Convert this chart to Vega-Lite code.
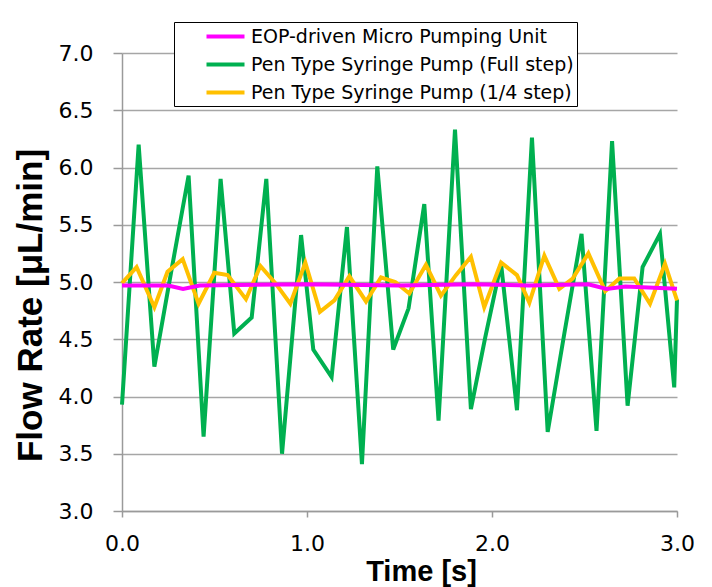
{
  "$schema": "https://vega.github.io/schema/vega-lite/v6.json",
  "width": 555,
  "height": 458,
  "autosize": {"type": "none"},
  "padding": {"left": 122, "top": 53, "right": 35, "bottom": 76},
  "background": "white",
  "config": {
    "view": {"stroke": null},
    "font": "DejaVu Sans",
    "axis": {
      "labelFont": "DejaVu Sans",
      "labelFontSize": 22,
      "labelColor": "#000000",
      "labelFlush": false,
      "titleFont": "Liberation Sans",
      "titleFontWeight": "bold",
      "titleColor": "#000000",
      "domainColor": "#9a9a9a",
      "domainWidth": 1.5,
      "tickColor": "#9a9a9a",
      "tickWidth": 1.5,
      "gridColor": "#a6a6a6",
      "gridWidth": 1.5,
      "gridOpacity": 1
    }
  },
  "data": {
    "values": [
      {"series": "Pen Type Syringe Pump (Full step)", "t": 0, "v": 3.93},
      {"series": "Pen Type Syringe Pump (Full step)", "t": 0.09, "v": 6.2},
      {"series": "Pen Type Syringe Pump (Full step)", "t": 0.175, "v": 4.26},
      {"series": "Pen Type Syringe Pump (Full step)", "t": 0.266, "v": 5.09},
      {"series": "Pen Type Syringe Pump (Full step)", "t": 0.36, "v": 5.93},
      {"series": "Pen Type Syringe Pump (Full step)", "t": 0.441, "v": 3.65},
      {"series": "Pen Type Syringe Pump (Full step)", "t": 0.533, "v": 5.9},
      {"series": "Pen Type Syringe Pump (Full step)", "t": 0.607, "v": 4.55},
      {"series": "Pen Type Syringe Pump (Full step)", "t": 0.701, "v": 4.69},
      {"series": "Pen Type Syringe Pump (Full step)", "t": 0.78, "v": 5.9},
      {"series": "Pen Type Syringe Pump (Full step)", "t": 0.865, "v": 3.5},
      {"series": "Pen Type Syringe Pump (Full step)", "t": 0.968, "v": 5.41},
      {"series": "Pen Type Syringe Pump (Full step)", "t": 1.034, "v": 4.41},
      {"series": "Pen Type Syringe Pump (Full step)", "t": 1.133, "v": 4.17},
      {"series": "Pen Type Syringe Pump (Full step)", "t": 1.216, "v": 5.48},
      {"series": "Pen Type Syringe Pump (Full step)", "t": 1.297, "v": 3.41},
      {"series": "Pen Type Syringe Pump (Full step)", "t": 1.38, "v": 6.01},
      {"series": "Pen Type Syringe Pump (Full step)", "t": 1.466, "v": 4.41},
      {"series": "Pen Type Syringe Pump (Full step)", "t": 1.549, "v": 4.77},
      {"series": "Pen Type Syringe Pump (Full step)", "t": 1.634, "v": 5.68},
      {"series": "Pen Type Syringe Pump (Full step)", "t": 1.711, "v": 3.79},
      {"series": "Pen Type Syringe Pump (Full step)", "t": 1.8, "v": 6.33},
      {"series": "Pen Type Syringe Pump (Full step)", "t": 1.886, "v": 3.89},
      {"series": "Pen Type Syringe Pump (Full step)", "t": 1.964, "v": 4.52},
      {"series": "Pen Type Syringe Pump (Full step)", "t": 2.049, "v": 5.16},
      {"series": "Pen Type Syringe Pump (Full step)", "t": 2.135, "v": 3.88},
      {"series": "Pen Type Syringe Pump (Full step)", "t": 2.216, "v": 6.26},
      {"series": "Pen Type Syringe Pump (Full step)", "t": 2.301, "v": 3.69},
      {"series": "Pen Type Syringe Pump (Full step)", "t": 2.391, "v": 4.55},
      {"series": "Pen Type Syringe Pump (Full step)", "t": 2.484, "v": 5.42},
      {"series": "Pen Type Syringe Pump (Full step)", "t": 2.565, "v": 3.7},
      {"series": "Pen Type Syringe Pump (Full step)", "t": 2.649, "v": 6.23},
      {"series": "Pen Type Syringe Pump (Full step)", "t": 2.733, "v": 3.92},
      {"series": "Pen Type Syringe Pump (Full step)", "t": 2.814, "v": 5.13},
      {"series": "Pen Type Syringe Pump (Full step)", "t": 2.908, "v": 5.42},
      {"series": "Pen Type Syringe Pump (Full step)", "t": 2.985, "v": 4.08},
      {"series": "Pen Type Syringe Pump (Full step)", "t": 3.0, "v": 4.85},

      {"series": "Pen Type Syringe Pump (1/4 step)", "t": 0, "v": 4.99},
      {"series": "Pen Type Syringe Pump (1/4 step)", "t": 0.079, "v": 5.13},
      {"series": "Pen Type Syringe Pump (1/4 step)", "t": 0.175, "v": 4.78},
      {"series": "Pen Type Syringe Pump (1/4 step)", "t": 0.246, "v": 5.09},
      {"series": "Pen Type Syringe Pump (1/4 step)", "t": 0.328, "v": 5.2},
      {"series": "Pen Type Syringe Pump (1/4 step)", "t": 0.414, "v": 4.81},
      {"series": "Pen Type Syringe Pump (1/4 step)", "t": 0.499, "v": 5.08},
      {"series": "Pen Type Syringe Pump (1/4 step)", "t": 0.571, "v": 5.06},
      {"series": "Pen Type Syringe Pump (1/4 step)", "t": 0.67, "v": 4.85},
      {"series": "Pen Type Syringe Pump (1/4 step)", "t": 0.748, "v": 5.14},
      {"series": "Pen Type Syringe Pump (1/4 step)", "t": 0.829, "v": 4.99},
      {"series": "Pen Type Syringe Pump (1/4 step)", "t": 0.91, "v": 4.81},
      {"series": "Pen Type Syringe Pump (1/4 step)", "t": 0.991, "v": 5.17},
      {"series": "Pen Type Syringe Pump (1/4 step)", "t": 1.07, "v": 4.74},
      {"series": "Pen Type Syringe Pump (1/4 step)", "t": 1.148, "v": 4.84},
      {"series": "Pen Type Syringe Pump (1/4 step)", "t": 1.229, "v": 5.05},
      {"series": "Pen Type Syringe Pump (1/4 step)", "t": 1.319, "v": 4.83},
      {"series": "Pen Type Syringe Pump (1/4 step)", "t": 1.4, "v": 5.04},
      {"series": "Pen Type Syringe Pump (1/4 step)", "t": 1.477, "v": 5.0},
      {"series": "Pen Type Syringe Pump (1/4 step)", "t": 1.553, "v": 4.9},
      {"series": "Pen Type Syringe Pump (1/4 step)", "t": 1.643, "v": 5.15},
      {"series": "Pen Type Syringe Pump (1/4 step)", "t": 1.724, "v": 4.88},
      {"series": "Pen Type Syringe Pump (1/4 step)", "t": 1.805, "v": 5.06},
      {"series": "Pen Type Syringe Pump (1/4 step)", "t": 1.886, "v": 5.22},
      {"series": "Pen Type Syringe Pump (1/4 step)", "t": 1.958, "v": 4.78},
      {"series": "Pen Type Syringe Pump (1/4 step)", "t": 2.049, "v": 5.17},
      {"series": "Pen Type Syringe Pump (1/4 step)", "t": 2.135, "v": 5.06},
      {"series": "Pen Type Syringe Pump (1/4 step)", "t": 2.202, "v": 4.82},
      {"series": "Pen Type Syringe Pump (1/4 step)", "t": 2.283, "v": 5.23},
      {"series": "Pen Type Syringe Pump (1/4 step)", "t": 2.364, "v": 4.94},
      {"series": "Pen Type Syringe Pump (1/4 step)", "t": 2.436, "v": 5.03},
      {"series": "Pen Type Syringe Pump (1/4 step)", "t": 2.521, "v": 5.25},
      {"series": "Pen Type Syringe Pump (1/4 step)", "t": 2.612, "v": 4.92},
      {"series": "Pen Type Syringe Pump (1/4 step)", "t": 2.688, "v": 5.03},
      {"series": "Pen Type Syringe Pump (1/4 step)", "t": 2.769, "v": 5.03},
      {"series": "Pen Type Syringe Pump (1/4 step)", "t": 2.854, "v": 4.81},
      {"series": "Pen Type Syringe Pump (1/4 step)", "t": 2.935, "v": 5.16},
      {"series": "Pen Type Syringe Pump (1/4 step)", "t": 3.0, "v": 4.84},

      {"series": "EOP-driven Micro Pumping Unit", "t": 0, "v": 4.97},
      {"series": "EOP-driven Micro Pumping Unit", "t": 0.25, "v": 4.97},
      {"series": "EOP-driven Micro Pumping Unit", "t": 0.33, "v": 4.94},
      {"series": "EOP-driven Micro Pumping Unit", "t": 0.42, "v": 4.97},
      {"series": "EOP-driven Micro Pumping Unit", "t": 1.0, "v": 4.98},
      {"series": "EOP-driven Micro Pumping Unit", "t": 1.5, "v": 4.97},
      {"series": "EOP-driven Micro Pumping Unit", "t": 1.9, "v": 4.98},
      {"series": "EOP-driven Micro Pumping Unit", "t": 2.2, "v": 4.97},
      {"series": "EOP-driven Micro Pumping Unit", "t": 2.52, "v": 4.98},
      {"series": "EOP-driven Micro Pumping Unit", "t": 2.62, "v": 4.94},
      {"series": "EOP-driven Micro Pumping Unit", "t": 2.72, "v": 4.96},
      {"series": "EOP-driven Micro Pumping Unit", "t": 3.0, "v": 4.94}
    ]
  },
  "mark": {"type": "line", "strokeWidth": 4, "strokeJoin": "miter"},
  "encoding": {
    "x": {
      "field": "t",
      "type": "quantitative",
      "scale": {"domain": [0, 3], "nice": false, "zero": false},
      "axis": {
        "title": "Time [s]",
        "values": [0, 1, 2, 3],
        "format": ".1f",
        "grid": false,
        "tickSize": 6,
        "labelPadding": 16,
        "titlePadding": 3,
        "titleFontSize": 29,
        "titleX": 299
      }
    },
    "y": {
      "field": "v",
      "type": "quantitative",
      "scale": {"domain": [3, 7], "nice": false, "zero": false},
      "axis": {
        "title": "Flow Rate [μL/min]",
        "values": [3, 3.5, 4, 4.5, 5, 5.5, 6, 6.5, 7],
        "format": ".1f",
        "grid": true,
        "tickSize": 9,
        "labelPadding": 20,
        "titlePadding": 10,
        "titleFontSize": 35,
        "titleY": 252
      }
    },
    "color": {
      "field": "series",
      "type": "nominal",
      "scale": {
        "domain": ["EOP-driven Micro Pumping Unit", "Pen Type Syringe Pump (Full step)", "Pen Type Syringe Pump (1/4 step)"],
        "range": ["#FF00FF", "#00B050", "#FFC000"]
      },
      "legend": {
        "title": null,
        "orient": "none",
        "legendX": 52,
        "legendY": -31,
        "direction": "vertical",
        "fillColor": "white",
        "strokeColor": "#000000",
        "padding": 3,
        "symbolOffset": 37,
        "symbolType": "M-2,0H2",
        "symbolSize": 361,
        "symbolStrokeWidth": 4,
        "labelFont": "DejaVu Sans",
        "labelFontSize": 19,
        "labelColor": "#000000",
        "labelLimit": 500,
        "labelOffset": 14,
        "rowPadding": 6
      }
    }
  }
}
